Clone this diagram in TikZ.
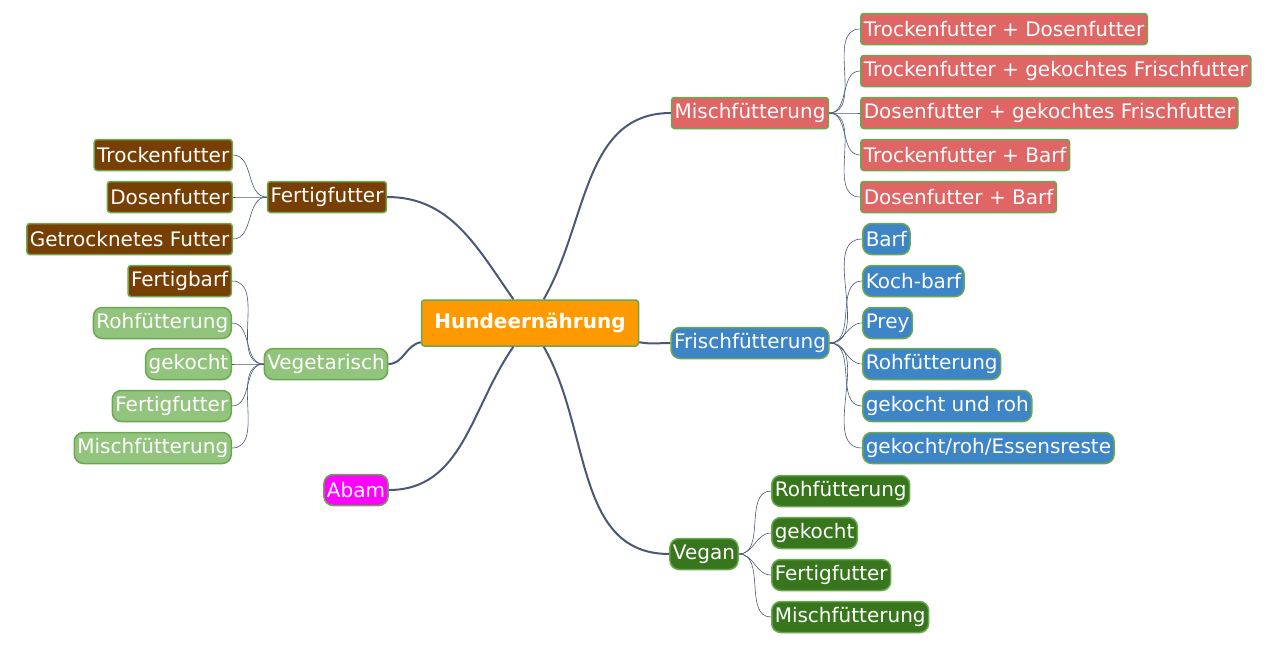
\documentclass[tikz,border=0pt]{standalone}
\usepackage{fontspec}
\setmainfont{DejaVu Sans}
\definecolor{hubc}{HTML}{FF9900}
\definecolor{redc}{HTML}{E06666}
\definecolor{bluec}{HTML}{3D85C6}
\definecolor{dgreenc}{HTML}{38761D}
\definecolor{lgreenc}{HTML}{93C47D}
\definecolor{brownc}{HTML}{783F04}
\definecolor{magc}{HTML}{FF00FF}
\definecolor{edgec}{HTML}{6AA84F}
\definecolor{linec}{HTML}{4A5778}
\begin{document}
\begin{tikzpicture}[x=1pt,y=-1pt,
  box/.style={draw=edgec,line width=1.5pt,text=white,minimum height=31pt,inner xsep=3pt,
    font=\fontsize{20}{23}\selectfont},
  redbox/.style={box,fill=redc,rounded corners=3pt},
  bluebox/.style={box,fill=bluec,rounded corners=9pt},
  dgbox/.style={box,fill=dgreenc,rounded corners=9pt},
  lgbox/.style={box,fill=lgreenc,rounded corners=9pt},
  brbox/.style={box,fill=brownc,rounded corners=3pt},
  main/.style={draw=linec,line width=2pt},
  sub/.style={draw=linec,line width=0.6pt}]
  \useasboundingbox (0,0) rectangle (1280,645);

  \node [box,fill=hubc,rounded corners=3pt,minimum height=46pt,minimum width=217pt,font=\fontsize{20}{23}\selectfont\bfseries] (hub) at (530,323) {Hundeernährung};

  % right side
  \node [redbox] (misch) at (750,113) {Mischfütterung};
  \node [redbox,anchor=west] (m1) at (860,29) {Trockenfutter + Dosenfutter};
  \node [redbox,anchor=west] (m2) at (860,71) {Trockenfutter + gekochtes Frischfutter};
  \node [redbox,anchor=west] (m3) at (860,113) {Dosenfutter + gekochtes Frischfutter};
  \node [redbox,anchor=west] (m4) at (860,155) {Trockenfutter + Barf};
  \node [redbox,anchor=west] (m5) at (860,197) {Dosenfutter + Barf};

  \node [bluebox] (frisch) at (750,343) {Frischfütterung};
  \node [bluebox,anchor=west] (f1) at (862,239) {Barf};
  \node [bluebox,anchor=west] (f2) at (862,281) {Koch-barf};
  \node [bluebox,anchor=west] (f3) at (862,323) {Prey};
  \node [bluebox,anchor=west] (f4) at (862,364) {Rohfütterung};
  \node [bluebox,anchor=west] (f5) at (862,406) {gekocht und roh};
  \node [bluebox,anchor=west] (f6) at (862,448) {gekocht/roh/Essensreste};

  \node [dgbox] (vegan) at (704,554) {Vegan};
  \node [dgbox,anchor=west] (v1) at (771,491) {Rohfütterung};
  \node [dgbox,anchor=west] (v2) at (771,533) {gekocht};
  \node [dgbox,anchor=west] (v3) at (771,575) {Fertigfutter};
  \node [dgbox,anchor=west] (v4) at (771,617) {Mischfütterung};

  % left side
  \node [brbox] (fertig) at (327,197) {Fertigfutter};
  \node [brbox,anchor=east] (r1) at (233,155) {Trockenfutter};
  \node [brbox,anchor=east] (r2) at (233,197) {Dosenfutter};
  \node [brbox,anchor=east] (r3) at (233,239) {Getrocknetes Futter};

  \node [lgbox] (veg) at (326,364) {Vegetarisch};
  \node [brbox,anchor=east] (g1) at (232,281) {Fertigbarf};
  \node [lgbox,anchor=east] (g2) at (232,323) {Rohfütterung};
  \node [lgbox,anchor=east] (g3) at (232,364) {gekocht};
  \node [lgbox,anchor=east] (g4) at (232,406) {Fertigfutter};
  \node [lgbox,anchor=east] (g5) at (232,448) {Mischfütterung};

  \node [box,fill=magc,rounded corners=9pt] (abam) at (356,490) {Abam};

  % main branches
  \draw [main] (hub) to [out=60,in=180] (misch.west);
  \draw [main] (hub) to [out=-10,in=180] (frisch.west);
  \draw [main] (hub) to [out=-60,in=180] (vegan.west);
  \draw [main] (hub) to [out=125,in=0] (fertig.east);
  \draw [main] (hub) to [out=190,in=0] (veg.east);
  \draw [main] (hub) to [out=235,in=0] (abam.east);

  % leaves
  \foreach \c in {m1,m2,m3,m4,m5} \draw [sub] (misch.east) to [out=0,in=180] (\c.west);
  \foreach \c in {f1,f2,f3,f4,f5,f6} \draw [sub] (frisch.east) to [out=0,in=180] (\c.west);
  \foreach \c in {v1,v2,v3,v4} \draw [sub] (vegan.east) to [out=0,in=180] (\c.west);
  \foreach \c in {r1,r2,r3} \draw [sub] (fertig.west) to [out=180,in=0] (\c.east);
  \foreach \c in {g1,g2,g3,g4,g5} \draw [sub] (veg.west) to [out=180,in=0] (\c.east);
\end{tikzpicture}
\end{document}
